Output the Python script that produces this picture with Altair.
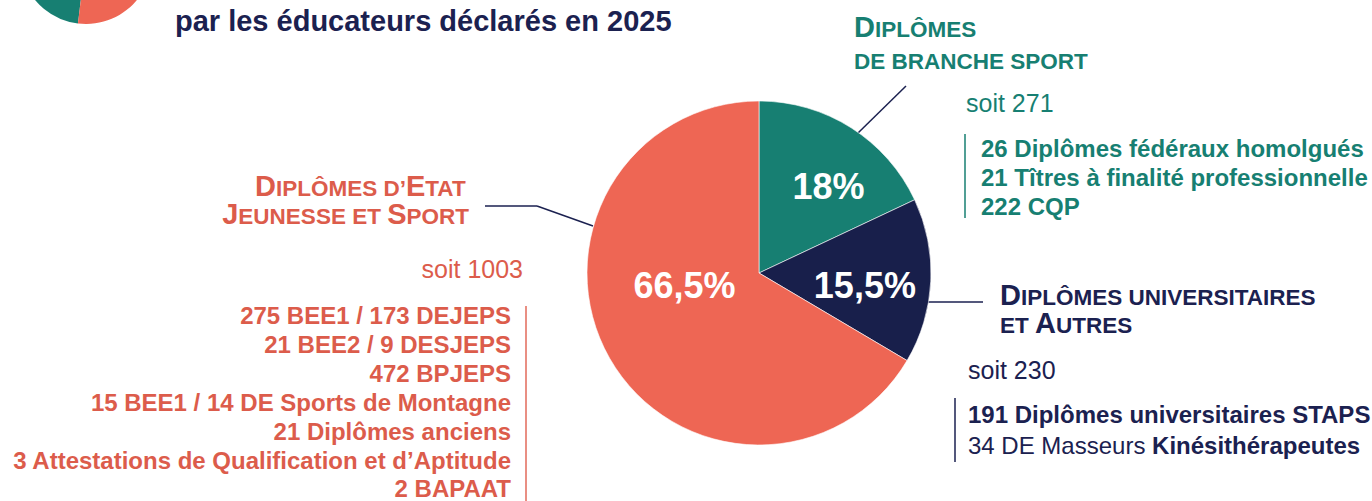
import altair as alt
import pandas as pd

FONT = "Liberation Sans"

# ---------------- data ----------------
categories = [
    "Diplômes de branche sport",
    "Diplômes universitaires et autres",
    "Diplômes d’Etat Jeunesse et Sport",
]
shares = [18.0, 15.5, 66.5]
share_labels = ["18%", "15,5%", "66,5%"]
totals = [271, 230, 1003]
slice_colors = ["#177F72", "#181F4B", "#EE6654"]
text_colors = ["#177F72", "#1B2150", "#DC5C4B"]
bar_colors = ["#177F72", "#1B2150", "#E26A5A"]

headings = [
    ["Diplômes", "de branche sport"],
    ["Diplômes universitaires", "et Autres"],
    ["Diplômes d’Etat", "Jeunesse et Sport"],
]
branche_items = [
    "26 Diplômes fédéraux homolgués",
    "21 Tîtres à finalité professionnelle",
    "222 CQP",
]
univ_items = [
    [("191 Diplômes universitaires STAPS", "bold")],
    [("34 DE Masseurs ", "normal"), ("Kinésithérapeutes", "bold")],
]
de_items = [
    "275 BEE1 / 173 DEJEPS",
    "21 BEE2 / 9 DESJEPS",
    "472 BPJEPS",
    "15 BEE1 / 14 DE Sports de Montagne",
    "21 Diplômes anciens",
    "3 Attestations de Qualification et d’Aptitude",
    "2 BAPAAT",
]
title_line = "par les éducateurs déclarés en 2025"

# ---------------- font metrics (Arial / Liberation Sans) ----------------
BOLD_CAPS = dict(A=722, B=722, C=722, D=722, E=667, F=611, G=778, H=722, I=278,
                 J=556, K=722, L=611, M=833, N=722, O=778, P=667, Q=778, R=722,
                 S=667, T=611, U=722, V=667, W=944, X=667, Y=667, Z=611)
BOLD_CAPS.update({" ": 278, "’": 278, "Ô": 778})
REG = {str(d): 556 for d in range(10)}
REG.update({" ": 278, "D": 722, "E": 667, "M": 833, "a": 556, "s": 500,
            "e": 556, "u": 556, "r": 333})

one = pd.DataFrame({"k": [0]})
layers = []


def txt(s, x, y, size, color, weight="bold", align="left", baseline="alphabetic"):
    return alt.Chart(one).mark_text(
        text=s, fontSize=size, font=FONT, fontWeight=weight, color=color,
        align=align, baseline=baseline,
    ).encode(x=alt.value(x), y=alt.value(y))


def smallcaps(s, x, y, color, align, big=29, small=22.5):
    pieces = []
    for ch in s:
        size = big if ch.isupper() else small
        c = ch.upper()
        if pieces and pieces[-1][1] == size:
            pieces[-1][0] += c
        else:
            pieces.append([c, size])
    widths = [sum(BOLD_CAPS[c] for c in p) * sz / 1000 for p, sz in pieces]
    start = x - sum(widths) if align == "right" else x
    out = []
    for (p, sz), w in zip(pieces, widths):
        out.append(txt(p, start, y, sz, color))
        start += w
    return out


def rule(x1, y1, x2, y2, color, w=1.5):
    return alt.Chart(one).mark_rule(color=color, strokeWidth=w).encode(
        x=alt.value(x1), y=alt.value(y1), x2=alt.value(x2), y2=alt.value(y2))


# ---------------- leader lines & bars ----------------
NAVY = text_colors[1]
layers += [
    rule(485, 206, 537, 206, NAVY),
    rule(537, 206, 593, 226, NAVY),
    rule(906, 86, 858, 133, NAVY),
    rule(928, 302, 983, 302, NAVY),
    rule(526, 306, 526, 501, bar_colors[2], 1.5),
    rule(965, 134, 965, 218, bar_colors[0], 1.5),
    rule(955, 398, 955, 462, bar_colors[1], 1.5),
]

# ---------------- pie ----------------
pie_df = pd.DataFrame({"category": categories, "share": shares,
                       "label": share_labels, "order": [0, 1, 2]})
color_scale = alt.Scale(domain=categories, range=slice_colors)
base = alt.Chart(pie_df)

pie = base.mark_arc(outerRadius=172, stroke="white", strokeWidth=0.6).encode(
    theta=alt.Theta("share:Q", stack=True, scale=alt.Scale(domain=[0, 100])),
    color=alt.Color("category:N", scale=color_scale, legend=None),
    order=alt.Order("order:Q"),
    x=alt.value(759), y=alt.value(273),
)
layers.append(pie)

label_geom = [(100, 16, -1), (106, 0, 9), (80, -5, -26)]
for i, (r, dx, dy) in enumerate(label_geom):
    layers.append(
        base.transform_calculate(t=f"datum.order == {i} ? datum.label : ''")
        .mark_text(radius=r, dx=dx, dy=dy, fontSize=36, font=FONT,
                   fontWeight="bold", color="white", baseline="middle", align="center")
        .encode(
            theta=alt.Theta("share:Q", stack=True, scale=alt.Scale(domain=[0, 100])),
            order=alt.Order("order:Q"),
            text="t:N",
            x=alt.value(759), y=alt.value(273),
        )
    )

# ---------------- small icon (same shares, rotated) ----------------
icon = base.mark_arc(outerRadius=66).encode(
    theta=alt.Theta("share:Q", stack=True,
                    scale=alt.Scale(domain=[0, 100], range=[3.264, 3.264 + 6.2832])),
    color=alt.Color("category:N", scale=color_scale, legend=None),
    order=alt.Order("order:Q"),
    x=alt.value(86), y=alt.value(-42),
)
layers.append(icon)

# ---------------- title ----------------
layers.append(txt(title_line, 175, 31, 29, NAVY))

# ---------------- headings ----------------
layers += smallcaps(headings[0][0], 854, 37, text_colors[0], "left")
layers += smallcaps(headings[0][1], 854, 69, text_colors[0], "left")
layers += smallcaps(headings[1][0], 1000, 305, text_colors[1], "left")
layers += smallcaps(headings[1][1], 1000, 333, text_colors[1], "left")
layers += smallcaps(headings[2][0], 469, 196, text_colors[2], "right")
layers += smallcaps(headings[2][1], 469, 224, text_colors[2], "right")

# ---------------- "soit" totals ----------------
layers.append(txt(f"soit {totals[0]}", 966, 112, 25, text_colors[0], weight="normal"))
layers.append(txt(f"soit {totals[1]}", 968, 379, 25, text_colors[1], weight="normal"))
layers.append(txt(f"soit {totals[2]}", 523, 278, 25, text_colors[2], weight="normal", align="right"))

# ---------------- detail lists ----------------
for i, s in enumerate(branche_items):
    layers.append(txt(s, 981, 157 + 29 * i, 24, text_colors[0]))
for i, s in enumerate(de_items):
    layers.append(txt(s, 511, 324 + 28.9 * i, 24, text_colors[2], align="right"))
for i, segs in enumerate(univ_items):
    x = 968
    for s, w in segs:
        layers.append(txt(s, x, 423 + 31 * i, 24, text_colors[1], weight=w))
        if w == "normal":
            x += sum(REG[c] for c in s) * 24 / 1000

chart = alt.layer(*layers).properties(
    width=1372, height=501, autosize="none", padding=0, background="white"
).resolve_scale(theta="independent").configure_view(stroke=None)

chart.save("out.html", embed_options={"renderer": "svg", "actions": False})
